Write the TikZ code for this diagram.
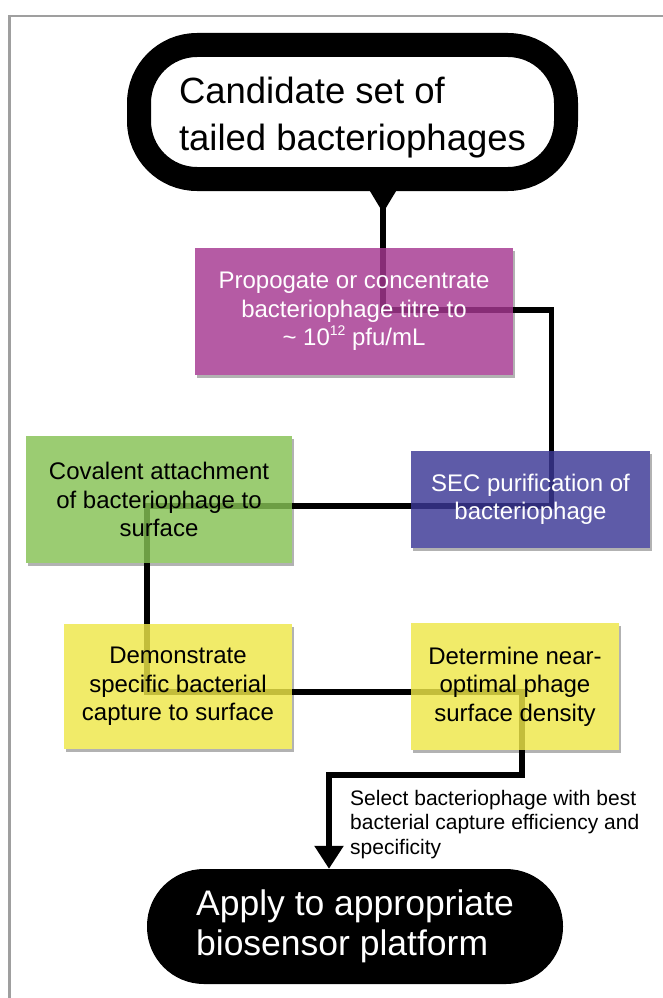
\documentclass[tikz,border=0pt]{standalone}
\usepackage{fontspec}
\setmainfont{Liberation Sans}
\usetikzlibrary{arrows.meta,backgrounds}
\definecolor{propmag}{RGB}{165,56,145}
\definecolor{secblue}{RGB}{59,55,149}
\definecolor{covgreen}{RGB}{134,193,84}
\definecolor{stepyellow}{RGB}{239,231,73}
\tikzset{
	stepbox/.style={rectangle, fill opacity=0.82, text opacity=1, align=center, inner sep=0pt, font=\fontsize{24}{28.5}\selectfont},
	terminal/.style={rectangle, align=left, inner sep=0pt},
	link/.style={line width=5.5pt, line cap=rect}
	}

\begin{document}
\begin{tikzpicture}[x=1pt, y=-1pt]
	\useasboundingbox (0,0) rectangle (663,998);

	% frame
	\draw[color=gray!75, line width=2.5pt] (9.5,998) -- (9.5,16) -- (663,16);

	% start
	\node[terminal, draw=black, line width=24pt, fill=white, rounded corners=58pt, minimum width=427pt, minimum height=134pt, font=\fontsize{36.5}{47}\selectfont] (cand) at (352.5,112)
		{\raisebox{-6pt}[\height][\depth]{\begin{tabular}{@{}l@{}}Candidate set of\\tailed bacteriophages\end{tabular}}};

	% steps
	\node[stepbox, fill=propmag, text=white, minimum width=318pt, minimum height=127pt] (prop) at (354,311.5) {Propogate or concentrate\\bacteriophage titre to\\\textasciitilde{} 10\raisebox{0.42em}{\fontsize{14}{14}\selectfont 12} pfu/mL};
	\node[stepbox, fill=secblue, text=white, minimum width=239pt, minimum height=97pt] (sec) at (530.5,499.5) {SEC purification of\\bacteriophage};
	\node[stepbox, fill=covgreen, minimum width=266pt, minimum height=127pt] (cov) at (159,499.5) {Covalent attachment\\of bacteriophage to\\surface};
	\node[stepbox, fill=stepyellow, minimum width=228pt, minimum height=125pt] (dem) at (178,686.5) {Demonstrate\\specific bacterial\\capture to surface};
	\node[stepbox, fill=stepyellow, minimum width=208pt, minimum height=127pt] (det) at (515,686.5) {Determine near-\\optimal phage\\surface density};

	% end
	\node[terminal, fill=black, text=white, rounded corners=57pt, minimum width=416pt, minimum height=115pt, font=\fontsize{35.5}{40}\selectfont] (apply) at (355,926.5) {Apply to appropriate\\biosensor platform};

	% note on last link
	\node[terminal, anchor=north west, font=\fontsize{21}{24.5}\selectfont] (sel) at (350,790) {Select bacteriophage with best\\bacterial capture efficiency and\\specificity};

	% bends inside the boxes
	\coordinate (k0) at ([xshift=30.5pt,yshift=2pt]cand.south);
	\coordinate (k1) at ([xshift=29pt,yshift=1.5pt]prop.center);
	\coordinate (k2) at ([xshift=21pt,yshift=-6.5pt]sec.center);
	\coordinate (k3) at ([xshift=-12pt,yshift=-6.5pt]cov.center);
	\coordinate (k4) at ([xshift=-31pt,yshift=-5.5pt]dem.center);
	\coordinate (k5) at ([xshift=7pt,yshift=-5.5pt]det.center);
	\coordinate (k6) at ([xshift=-26pt,yshift=94pt]apply.north);

	\begin{scope}[on background layer]
		% shadows and white under the boxes
		\foreach \b in {prop,sec,cov,dem,det} {
			\fill[black, opacity=0.3] ([xshift=2pt,yshift=-3pt]\b.south west) rectangle ([xshift=2pt,yshift=-3pt]\b.north east);
			\fill[white] (\b.south west) rectangle (\b.north east);
		}
		% links
		\draw[link] (k0) -- (k1);
		\draw[link] (k1) -| (k2);
		\draw[link] (k2) -- (k3);
		\draw[link] (k3) -- (k4);
		\draw[link] (k4) -- (k5);
		\draw[link, -{Triangle[length=23pt, width=28pt]}] (k5) |- (k6) -- (k6 |- apply.north);
	\end{scope}
	% tip under the start
	\draw[link, -{Triangle[length=24pt, width=27pt]}] (k0) -- ++(0,24);

\end{tikzpicture}
\end{document}
